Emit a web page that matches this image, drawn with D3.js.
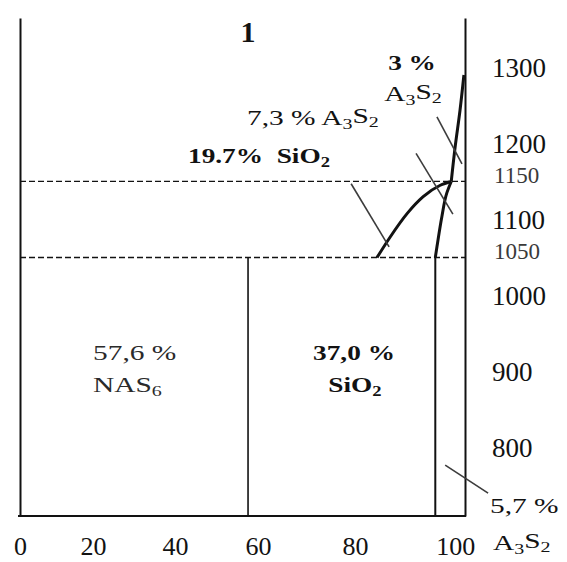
<!DOCTYPE html>
<html>
<head>
<meta charset="utf-8">
<script src="https://cdn.jsdelivr.net/npm/d3@7"></script>
<style>
  html, body { margin: 0; padding: 0; background: #fff; }
  svg { display: block; font-family: "Liberation Serif", "Times New Roman", serif; }
</style>
</head>
<body>
<svg id="chart" width="567" height="562"></svg>
<script>
// Composition axis (cumulative %, piecewise) and temperature axis (°C)
const xTicks = [0, 20, 40, 60, 80, 100];
const yTicksMajor = [800, 900, 1000, 1100, 1200, 1300];
const yTicksMinor = [1050, 1150];
const isotherms = [1050, 1150];

// Phase shares at room temperature
const phaseNames = ["NAS_6", "SiO_2", "A_3S_2"];
const phaseShares = [57.6, 37.0, 5.7];

// Liquidus towards SiO2 (from 1050 °C up to the 1150 °C point)
const liquidusSiO2 = [[84.0, 1050], [86.4, 1077], [89.5, 1108], [92.4, 1130], [95.5, 1145], [97.5, 1150]];
// Liquidus towards A3S2 (from 1150 °C up to ~1290 °C)
const liquidusA3S2 = [[97.5, 1150], [98.2, 1195], [99.1, 1244], [99.8, 1290]];
// SiO2 / A3S2 field boundary above 1050 °C
const boundaryUpper = [[94.6, 1050], [94.9, 1064], [95.8, 1104], [96.7, 1135], [97.5, 1150]];

// Leader lines for the annotations
const leaders = [
  [[79.2, 1147], [86.2, 1064]],
  [[91.1, 1187], [97.8, 1107]],
  [[94.9, 1235], [99.45, 1173]],
  [[96.4, 777], [104.2, 740]]
];

const svg = d3.select("#chart");

const x = d3.scaleLinear()
  .domain(xTicks)
  .range([20, 93, 175, 258, 355, 465]);

const y = d3.scaleLinear()
  .domain([710, 1365])
  .range([516, 18]);

const ink = "#121212";

// Field boundaries at 57.6 and 94.6 %
const cumShares = d3.cumsum(phaseShares);
const b1 = cumShares[0];
const b2 = +(cumShares[0] + phaseShares[1]).toFixed(1);

// Left frame
svg.append("g")
  .attr("transform", `translate(${x(0)},0)`)
  .call(d3.axisLeft(y).tickValues([]).tickSize(0).tickSizeOuter(0))
  .call(g => g.select(".domain").attr("stroke", ink).attr("stroke-width", 2));

// Bottom axis
const xAxis = svg.append("g")
  .attr("transform", `translate(0,${y(710)})`)
  .call(d3.axisBottom(x).tickValues(xTicks).tickSize(0).tickSizeOuter(0).tickPadding(21).tickFormat(d3.format("d")));
xAxis.select(".domain").attr("stroke", ink).attr("stroke-width", 2).attr("d", `M${x(0) - 2},0H${x(100) + 1}`);
xAxis.selectAll("text")
  .attr("font-family", "Liberation Serif")
  .attr("font-size", 26)
  .attr("fill", ink);
xAxis.selectAll(".tick").filter(d => d === 100).select("text").attr("dx", "-0.38em");

// Right axis: major temperatures
const yAxis = svg.append("g")
  .attr("transform", `translate(${x(100)},0)`)
  .call(d3.axisRight(y).tickValues(yTicksMajor).tickSize(0).tickSizeOuter(0).tickPadding(27).tickFormat(d3.format("d")));
yAxis.select(".domain").attr("stroke", ink).attr("stroke-width", 2);
yAxis.selectAll("text")
  .attr("font-family", "Liberation Serif")
  .attr("font-size", 27)
  .attr("fill", ink);

// Right axis: isotherm temperatures
const yAxisMinor = svg.append("g")
  .attr("transform", `translate(${x(100)},0)`)
  .call(d3.axisRight(y).tickValues(yTicksMinor).tickSize(0).tickPadding(29).tickFormat(d3.format("d")));
yAxisMinor.select(".domain").remove();
yAxisMinor.selectAll("text")
  .attr("font-family", "Liberation Serif")
  .attr("font-size", 23)
  .attr("fill", "#3a3a3a")
  .attr("dy", "0.05em");

// Isotherms
svg.append("g").selectAll("line")
  .data(isotherms)
  .join("line")
  .attr("x1", x(0)).attr("x2", x(100))
  .attr("y1", d => y(d)).attr("y2", d => y(d))
  .attr("stroke", ink)
  .attr("stroke-width", 1.3)
  .attr("stroke-dasharray", "6,3");

// NAS6 / SiO2 boundary
svg.append("line")
  .attr("x1", x(b1)).attr("x2", x(b1))
  .attr("y1", y(710)).attr("y2", y(1050))
  .attr("stroke", ink).attr("stroke-width", 1.6);

// SiO2 / A3S2 boundary, lower straight part
svg.append("line")
  .attr("x1", x(b2)).attr("x2", x(b2))
  .attr("y1", y(710)).attr("y2", y(1050))
  .attr("stroke", ink).attr("stroke-width", 2);

const lineX = d3.line().x(d => x(d[0])).y(d => y(d[1])).curve(d3.curveMonotoneX);
const lineY = d3.line().x(d => x(d[0])).y(d => y(d[1])).curve(d3.curveMonotoneY);

svg.append("path").datum(liquidusSiO2).attr("d", lineX)
  .attr("fill", "none").attr("stroke", ink).attr("stroke-width", 3);
svg.append("path").datum(liquidusA3S2).attr("d", lineY)
  .attr("fill", "none").attr("stroke", ink).attr("stroke-width", 3);
svg.append("path").datum(boundaryUpper).attr("d", lineY)
  .attr("fill", "none").attr("stroke", ink).attr("stroke-width", 3);

// Leader lines
svg.append("g").selectAll("line")
  .data(leaders)
  .join("line")
  .attr("x1", d => x(d[0][0])).attr("y1", d => y(d[0][1]))
  .attr("x2", d => x(d[1][0])).attr("y2", d => y(d[1][1]))
  .attr("stroke", "#3c3c3c").attr("stroke-width", 1.6);

// Text with "_n" subscripts, slightly widened
function note(px, py, str, opts = {}) {
  const t = svg.append("text")
    .attr("transform", `translate(${px},${py}) scale(${opts.sx || 1.4},1)`)
    .attr("text-anchor", opts.anchor || "start")
    .attr("font-size", opts.size || 21)
    .attr("font-weight", opts.bold ? "bold" : "normal")
    .attr("fill", opts.fill || ink)
    .style("white-space", "pre");
  const parts = str.split(/(_\d)/).filter(s => s.length);
  let sub = false;
  parts.forEach(p => {
    if (p[0] === "_") {
      t.append("tspan").attr("dy", "0.28em").attr("font-size", "0.68em").text(p.slice(1));
      sub = true;
    } else {
      const ts = t.append("tspan").text(p);
      if (sub) ts.attr("dy", "-0.28em");
      sub = false;
    }
  });
  return t;
}

const pct = v => d3.format(".1f")(v).replace(".", ",") + " %";

// Title
svg.append("text")
  .attr("x", 248).attr("y", 42)
  .attr("text-anchor", "middle")
  .attr("font-size", 30).attr("font-weight", "bold")
  .attr("fill", ink)
  .text("1");

// Field labels
note(93, 360, pct(phaseShares[0]), { fill: "#2a2a2a" });
note(93, 392, phaseNames[0], { fill: "#2a2a2a" });
note(354, 360, pct(phaseShares[1]), { anchor: "middle", bold: true, sx: 1.3 });
note(355, 392, phaseNames[1], { anchor: "middle", bold: true, sx: 1.3 });

// Liquid-region annotations
note(412, 70, "3 %", { anchor: "middle", bold: true, sx: 1.3 });
note(413, 101, "A_3S_2", { anchor: "middle" });
note(247, 125, "7,3 % A_3S_2");
note(188, 163, "19.7%\u00a0\u00a0SiO_2", { bold: true, sx: 1.3 });

// Room-temperature A3S2 share
note(490, 513, pct(phaseShares[2]));
note(493, 550, "A_3S_2");
</script>
</body>
</html>
